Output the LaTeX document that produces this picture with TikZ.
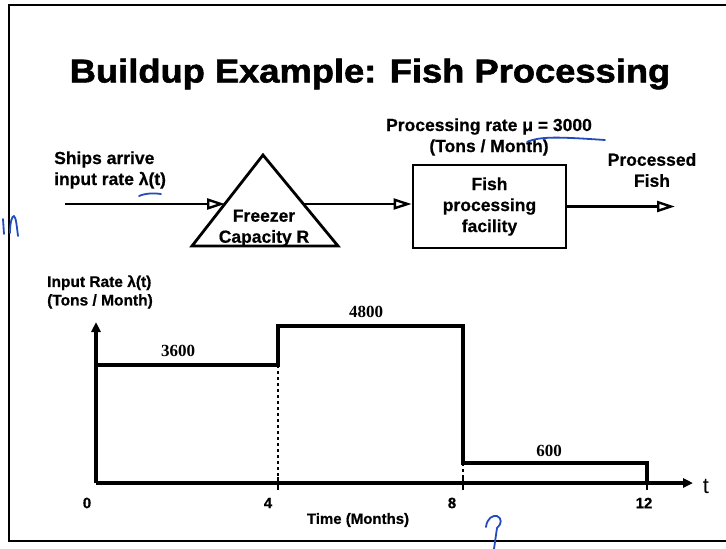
\documentclass[tikz,border=0pt]{standalone}
\usepackage{fontspec}
\setmainfont{Liberation Sans}[BoldFeatures={FakeBold=0.6}]
\newfontfamily\titlefont{Liberation Sans Bold}[FakeBold=1.6]
\newfontfamily\numfont{Liberation Serif}
\usetikzlibrary{arrows.meta}

\definecolor{pen}{RGB}{35,75,190}

\begin{document}
\begin{tikzpicture}[x=1pt,y=-1pt,
  lbl/.style={font=\fontsize{17.5}{21}\selectfont\bfseries, align=center, inner sep=0pt},
  axlbl/.style={font=\fontsize{15.5}{18.5}\selectfont\bfseries, align=left, inner sep=0pt},
  ticklbl/.style={font=\fontsize{15}{18}\selectfont\bfseries, inner sep=0pt},
  level/.style={font=\fontsize{17}{20}\selectfont\numfont\bfseries, inner sep=0pt},
  shapeline/.style={line width=2.8pt, line join=miter},
  flow/.style={line width=2.8pt, -{Triangle[open, length=18pt, width=11pt, line width=2.4pt]}},
  axis/.style={line width=3.3pt, -{Triangle[length=10pt, width=9pt]}},
  steps/.style={line width=4pt, line join=miter},
  guide/.style={line width=2.6pt, dash pattern=on 3pt off 3pt},
  tick/.style={line width=2.6pt},
  frame/.style={line width=1.8pt},
  ink/.style={pen, line width=1.8pt, line cap=round, line join=round}]

\useasboundingbox (0,0) rectangle (726,549);

% slide frame (open on the right)
\draw[frame] (726,5) -- (9,5) -- (9,541) -- (726,541);

% title
\node (title) at (370,74) {\fontsize{33}{36}\selectfont\titlefont\scalebox{1.1}[1]{Buildup Example: Fish Processing}};

% ---- process chain ----
\coordinate (src) at (65,204);
\coordinate (apex) at (263,155);
\coordinate (bl) at (192,246);
\coordinate (br) at (338,246);
\draw[shapeline] (apex) -- (br) -- (bl) -- cycle;
\coordinate (triIn) at (225,204);
\coordinate (triOut) at (303,204);
\node[lbl] (freezer) at (264,228) {Freezer\\Capacity R};

\node[draw, shapeline, minimum width=153pt, minimum height=83pt, inner sep=0pt] (fish) at (489.5,206.5) {};
\node[lbl] (fishtxt) at (fish.center) {Fish\\processing\\facility};
\coordinate (sink) at (675,206.5);

\draw[flow] (src) -- (triIn);
\draw[flow] (triOut) -- (triOut -| fish.west);
\draw[flow] (fish.east) -- (sink);

\node[lbl, align=left, anchor=west] (ships) at (54,170) {Ships arrive\\input rate λ(t)};
\node[lbl] (rate) at (489,137) {Processing rate μ = 3000\\(Tons / Month)};
\node[lbl] (out) at (652,170) {Processed\\Fish};

% ---- input rate chart ----
\coordinate (o) at (96,483);
\coordinate (ytop) at (96,322);
\coordinate (xend) at (693,483);
\draw[axis] (o) -- (ytop);
\draw[axis] (o) -- (xend);

\coordinate (a0) at (96,365);
\coordinate (a4) at (278,365);
\coordinate (b4) at (278,326);
\coordinate (b8) at (463,326);
\coordinate (c8) at (463,463);
\coordinate (c12) at (647,463);
\coordinate (d12) at (647,483);
\draw[steps] (a0) -- (a4) -- (b4) -- (b8) -- (c8) -- (c12) -- (d12);

\draw[guide] (a4) -- (278,483);
\draw[guide] (c8) -- (463,483);
\foreach \x in {278,463,647} \draw[tick] (\x,477) -- (\x,490);

\node[axlbl, anchor=west] (ylabel) at (47,292) {Input Rate λ(t)\\(Tons / Month)};
\node[level] (v3600) at (178,351) {3600};
\node[level] (v4800) at (366,312) {4800};
\node[level] (v600) at (549,451) {600};

\node[ticklbl] (t0) at (87,503) {0};
\node[ticklbl] (t4) at (268,503) {4};
\node[ticklbl] (t8) at (452,503) {8};
\node[ticklbl] (t12) at (644,503) {12};
\node[ticklbl] (xlabel) at (358,520) {Time (Months)};
\node[font=\fontsize{22}{24}\selectfont, inner sep=0pt] (tvar) at (706,486) {t};

% ---- pen marks ----
\draw[ink] (139,196) .. controls (146,193) and (155,193) .. (161,194);
\draw[ink] (527,142) .. controls (540,136) and (560,137) .. (605,140);
\draw[ink] (3,219) -- (4,234);
\draw[ink] (10,233) .. controls (10,222) and (12,216) .. (14,216) .. controls (16,217) and (17,228) .. (18,236);
\draw[ink] (486,527) .. controls (487,518) and (493,515) .. (497,516) .. controls (502,518) and (502,524) .. (497,528) -- (494,549);
\end{tikzpicture}
\end{document}
